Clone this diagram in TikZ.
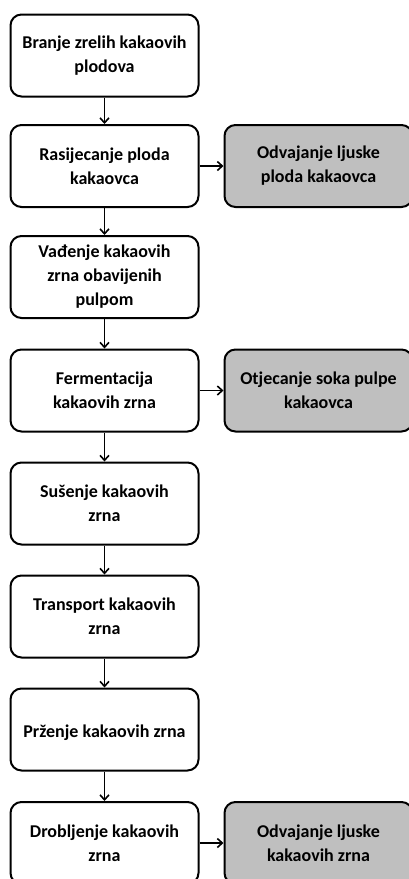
\documentclass[tikz,border=0pt]{standalone}
\usepackage{fontspec}
\setmainfont{Carlito}
\usetikzlibrary{arrows.meta}
\begin{document}
\begin{tikzpicture}[x=1pt,y=-1pt,
  stepbox/.style={draw=black, line width=2pt, rounded corners=11pt, fill=white,
    minimum width=188pt, minimum height=82pt, align=center,
    font=\fontsize{18}{24}\selectfont\bfseries, inner sep=0pt,
    execute at begin node={\rule{0pt}{19pt}}},
  sidebox/.style={stepbox, fill=black!25},
  flow/.style={line width=1.8pt, -{Straight Barb[length=5pt,width=9pt,line width=1.6pt]}}]
\useasboundingbox (0,0) rectangle (409,879);
\clip (0,0) rectangle (409,879);
\node[stepbox] (a) at (104.5,55.5) {Branje zrelih kakaovih\\plodova};
\node[stepbox] (b) at (104.5,166) {Rasijecanje ploda\\kakaovca};
\node[sidebox] (bs) at (318.5,166) {Odvajanje ljuske\\ploda kakaovca};
\node[stepbox] (c) at (104.5,277) {Vađenje kakaovih\\zrna obavijenih\\pulpom};
\node[stepbox] (d) at (104.5,390.5) {Fermentacija\\kakaovih zrna};
\node[sidebox] (ds) at (318.5,390.5) {Otjecanje soka pulpe\\kakaovca};
\node[stepbox] (e) at (104.5,503.5) {Sušenje kakaovih\\zrna};
\node[stepbox] (f) at (104.5,616.5) {Transport kakaovih\\zrna};
\node[stepbox] (g) at (104.5,729.5) {Prženje kakaovih zrna};
\node[stepbox] (h) at (104.5,843) {Drobljenje kakaovih\\zrna};
\node[sidebox] (hs) at (318.5,843) {Odvajanje ljuske\\kakaovih zrna};
\draw[flow] (a) -- (b);
\draw[flow] (b) -- (c);
\draw[flow] (c) -- (d);
\draw[flow] (d) -- (e);
\draw[flow] (e) -- (f);
\draw[flow] (f) -- (g);
\draw[flow] (g) -- (h);
\draw[flow] (b) -- (bs);
\draw[flow] (d) -- (ds);
\draw[flow] (h) -- (hs);
\end{tikzpicture}
\end{document}
